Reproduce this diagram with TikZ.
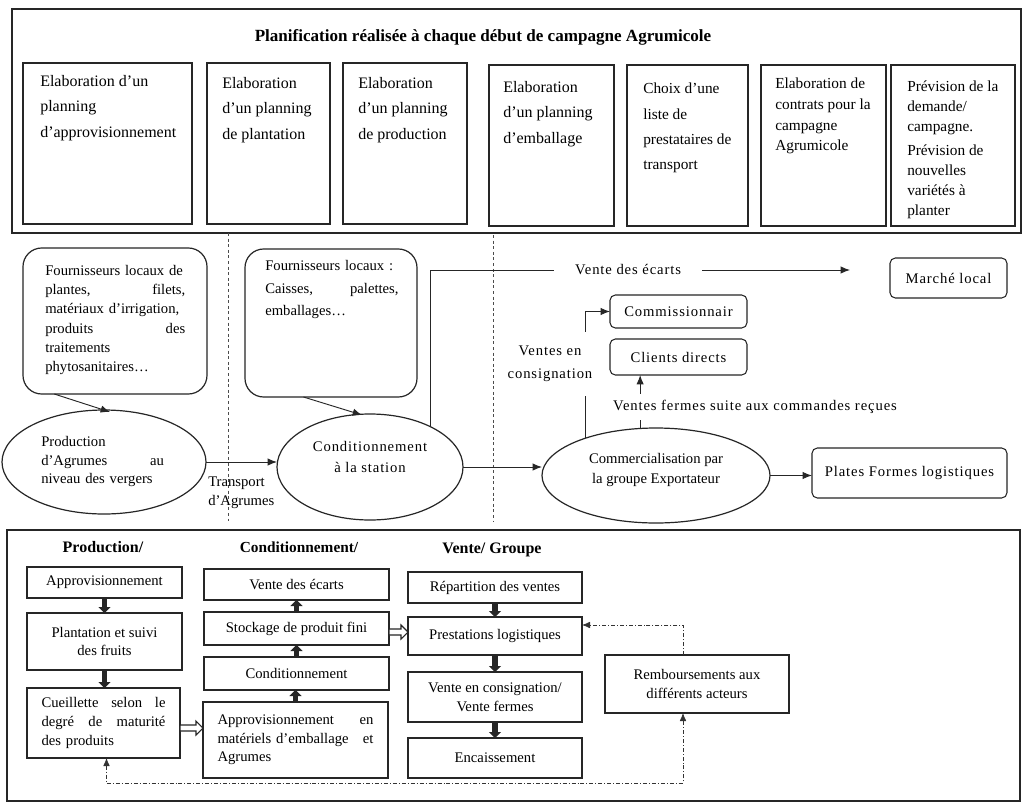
\documentclass[tikz,border=0pt]{standalone}
\usepackage{fontspec}
\setmainfont{Liberation Serif}
\newfontfamily\widefont[LetterSpace=6]{Liberation Serif}
\usetikzlibrary{arrows.meta,shapes.geometric,calc}
\newcommand\fsz[2]{\fontsize{#1}{#2}\selectfont}
% hollow block arrow: #1 start anchor, #2 length (px), #3 vertical offset (px)
\newcommand\hollowarrow[3]{%
  \draw[hollow] ($(#1)+(0,#3)$) ++(0,-3) -- ++({#2-7},0) -- ++(0,-4) -- ++(7,7)
    -- ++(-7,7) -- ++(0,-4) -- ++({7-#2},0) -- cycle;}

\begin{document}
\begin{tikzpicture}[x=0.75pt,y=-0.75pt,
  ink/.style={draw=black!85},
  box/.style n args={4}{minimum width={(#3-#1)*0.75pt}, minimum height={(#4-#2)*0.75pt},
    at={({(#1+#3)/2},{(#2+#4)/2})}, inner sep=0pt, outer sep=0pt},
  frame/.style={ink, line width=0.9pt, rectangle},
  plan/.style={ink, line width=1pt, rectangle},
  cell/.style={ink, line width=0.9pt, rectangle, align=center, font=\fsz{11}{14}},
  supplier/.style={ink, line width=0.9pt, rectangle, rounded corners=14pt},
  dest/.style={ink, line width=0.8pt, rectangle, rounded corners=4pt, font=\widefont\fsz{11}{14}},
  stage/.style={ink, line width=0.9pt, ellipse},
  note/.style={inner sep=0pt, anchor=north west, align=left},
  mid/.style={inner sep=0pt, align=center},
  gap/.style={fill=white, align=center, font=\fsz{11}{15}},
  flow/.style={line width=0.7pt, draw=black!85, -{Latex[length=7pt,width=5.5pt]}},
  push/.style={line width=4.2pt, draw=black!85, -{Triangle[length=4.5pt,width=9pt]}},
  hollow/.style={line width=0.8pt, draw=black!85, fill=white},
  refund/.style={line width=0.6pt, draw=black!80, dash pattern=on 3pt off 1.5pt on 0.7pt off 1.5pt},
  divider/.style={line width=0.7pt, draw=black!70, dash pattern=on 2.2pt off 2pt}
]
\fill[white] (0,0) rectangle (1024,810);
\useasboundingbox (0,0) rectangle (1024,810);

% ---------- planning band ----------
\node[frame, box={12}{9}{1021}{233}] (plan) {};
\node[font=\bfseries\fsz{12.8}{15}] (title) at (483,37)
  {Planification réalisée à chaque début de campagne Agrumicole};

\node[plan, box={23}{63}{192}{224}] (p1) {};
\node[plan, box={207}{63}{330}{224}] (p2) {};
\node[plan, box={343}{63}{467}{224}] (p3) {};
\node[plan, box={489}{65}{614}{226}] (p4) {};
\node[plan, box={627}{65}{748}{226}] (p5) {};
\node[plan, box={761}{65}{886}{226}] (p6) {};
\node[plan, box={891}{65}{1015}{226}] (p7) {};

\node[note, font=\fsz{12}{19}] (p1t) at (40,75) {Elaboration d'un\\planning\\d'approvisionnement};
\node[note, font=\fsz{12}{19}] (p2t) at (222,77) {Elaboration\\d'un planning\\de plantation};
\node[note, font=\fsz{12}{19}] (p3t) at (358,77) {Elaboration\\d'un planning\\de production};
\node[note, font=\fsz{12}{19}] (p4t) at (503,81) {Elaboration\\d'un planning\\d'emballage};
\node[note, font=\fsz{11.5}{19}] (p5t) at (643,83) {Choix d'une\\liste de\\prestataires de\\transport};
\node[note, font=\fsz{11.5}{15.5}] (p6t) at (775,78) {Elaboration de\\contrats pour la\\campagne\\Agrumicole};
\node[note, font=\fsz{11.5}{15}] (p7t) at (907,81)
  {Prévision de la\\demande/\\campagne.\\[3pt]Prévision de\\nouvelles\\variétés à\\planter};

% ---------- physical flow ----------
\draw[divider] (228,233) -- (228,521);
\draw[divider] (493,235) -- (493,521);

\node[supplier, box={23}{248}{207}{394}] (f1) {};
\node[note, text width=105pt, font=\fsz{11}{14.4}] (f1t) at (45,265)
  {Fournisseurs locaux de\\plantes,\hfill filets,\\matériaux d'irrigation,\\produits\hfill des\\traitements\\phytosanitaires…};
\node[supplier, box={245}{249}{417}{397}] (f2) {};
\node[note, text width=100pt, font=\fsz{11}{17}] (f2t) at (265,260)
  {Fournisseurs locaux :\\Caisses,\hfill palettes,\\emballages…};

\node[stage, box={2}{410}{206}{514}] (e1) {};
\node[note, text width=92pt, font=\fsz{11}{14}] (e1t) at (41,436)
  {Production\\d'Agrumes\hfill au\\niveau des vergers};
\node[stage, box={277}{414}{463}{520}] (e2) {};
\node[mid, font=\widefont\fsz{11}{15.5}] (e2t) at (370,457) {Conditionnement\\à la station};
\node[stage, box={542}{428}{770}{523}] (e3) {};
\node[mid, font=\fsz{11}{15.5}] (e3t) at (656,470) {Commercialisation par\\la groupe Exportateur};

\node[dest, box={610}{295}{747}{328}] (comm) {Commissionnair};
\node[dest, box={610}{339}{747}{375}] (cd) {Clients directs};
\node[dest, box={890}{258}{1007}{298}] (mloc) {Marché local};
\node[dest, box={812}{448}{1007}{498}] (pf) {Plates Formes logistiques};

\draw[flow] ($(f1.south west)!0.17!(f1.south east)$) -- ($(e1.north)+(6,2)$);
\draw[flow] ($(f2.south west)!0.34!(f2.south east)$) -- ($(e2.north)+(-8,1)$);
\draw[flow] (e1.east) -- (e1.east -| e2.west);
\node[note, font=\fsz{11}{14}] (tr) at (208,477) {Transport\\d'Agrumes};
\draw[flow] (e2.east) -- (e2.east -| e3.west);
\draw[flow] (e3.east) -- (e3.east -| pf.west);

\coordinate (ve) at (850,270);
\draw[flow] (e2.34) |- (ve);
\node[gap, font=\widefont\fsz{11}{15}, minimum width=148*0.75pt, inner ysep=2pt] (vd) at (628,270) {Vente des écarts};

\draw[flow] (e3.152) |- (comm.west);
\node[gap, font=\widefont\fsz{11}{17}, inner ysep=11pt, inner xsep=2pt] (cons) at (550,364) {Ventes en\\consignation};

\coordinate (cdx) at ($(cd.south west)!0.22!(cd.south east)$);
\draw[flow] (e3.north -| cdx) -- (cdx);
\node[gap, font=\widefont\fsz{11}{15}, inner ysep=5pt, inner xsep=1pt] (vf) at (755,407) {Ventes fermes suite aux commandes reçues};

% ---------- activities ----------
\node[frame, box={7}{530}{1020}{801}] (ops) {};
\node[font=\bfseries\fsz{12}{14}] (h1) at (103,547) {Production/};
\node[font=\bfseries\fsz{11.5}{14}] (h2) at (299,547) {Conditionnement/};
\node[font=\bfseries\fsz{12}{14}] (h3) at (492,550) {Vente/ Groupe};

\node[cell, box={27}{567}{182}{598}] (a1) {Approvisionnement};
\node[cell, box={27}{613}{182}{670}] (a2) {Plantation et suivi\\des fruits};
\node[cell, box={27}{688}{180}{758}, text width=93pt, align=left] (a3)
  {Cueillette\hfill selon\hfill le\\degré\hfill de\hfill maturité\\des produits};

\node[cell, box={204}{569}{389}{600}] (b1) {Vente des écarts};
\node[cell, box={204}{612}{389}{645}] (b2) {Stockage de produit fini};
\node[cell, box={204}{657}{389}{690}] (b3) {Conditionnement};
\node[cell, box={203}{702}{388}{778}, text width=117pt, align=left] (b4)
  {Approvisionnement\hfill en\\matériels d'emballage\hfill et\\Agrumes};

\node[cell, box={408}{572}{582}{603}] (c1) {Répartition des ventes};
\node[cell, box={408}{617}{582}{655}] (c2) {Prestations logistiques};
\node[cell, box={408}{672}{582}{722}] (c3) {Vente en consignation/\\Vente fermes};
\node[cell, box={408}{738}{582}{778}] (c4) {Encaissement};
\node[cell, box={605}{655}{789}{713}] (r) {Remboursements aux\\différents acteurs};

\draw[push] (a1.south) -- (a1.south |- a2.north);
\draw[push] (a2.south) -- (a2.south |- a3.north);
\draw[push] (b4.north) -- (b4.north |- b3.south);
\draw[push] (b3.north) -- (b3.north |- b2.south);
\draw[push] (b2.north) -- (b2.north |- b1.south);
\draw[push] (c1.south) -- (c1.south |- c2.north);
\draw[push] (c2.south) -- (c2.south |- c3.north);
\draw[push] (c3.south) -- (c3.south |- c4.north);

\hollowarrow{a3.east}{23}{5}
\hollowarrow{b2.east}{19}{3.5}

\coordinate (rb) at ($(r.south)+(-14,0)$);
\coordinate (rt) at ($(r.north)+(-14,0)$);
\coordinate (low) at (400,783);
\draw[refund, {Latex[length=6pt,width=5pt]}-{Latex[length=6pt,width=5pt]}] ($(a3.south)+(3,0)$) |- (low) -| (rb);
\draw[refund, -{Latex[length=6pt,width=5pt]}] (rt) |- ($(c2.east)+(0,-11)$);
\end{tikzpicture}
\end{document}
